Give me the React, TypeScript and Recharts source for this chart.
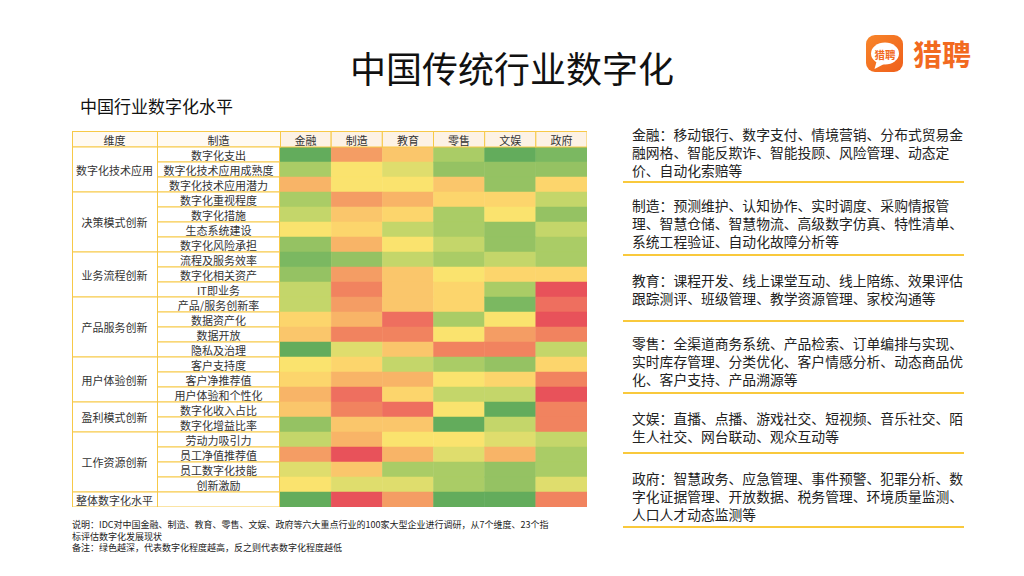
import React from 'react';
import { ScatterChart, Scatter, XAxis, YAxis } from 'recharts';

const industries = ['金融', '制造', '教育', '零售', '文娱', '政府'];

const dimensions = ['数字化技术应用', '决策模式创新', '业务流程创新', '产品服务创新', '用户体验创新', '盈利模式创新', '工作资源创新', '整体数字化水平'];
const dimensionSizes = [3, 4, 3, 4, 3, 2, 4, 1];

const indicators = [
  '数字化支出', '数字化技术应用成熟度', '数字化技术应用潜力',
  '数字化重视程度', '数字化措施', '生态系统建设', '数字化风险承担',
  '流程及服务效率', '数字化相关资产', 'IT即业务',
  '产品/服务创新率', '数据资产化', '数据开放', '隐私及治理',
  '客户支持度', '客户净推荐值', '用户体验和个性化',
  '数字化收入占比', '数字化增益比率',
  '劳动力吸引力', '员工净值推荐值', '员工数字化技能', '创新激励',
  '整体数字化水平',
];

// digitalisation level per cell: 0 = lowest (red) ... 13 = highest (deep green)
const levels: number[][] = [
  [13, 3, 5, 10, 13, 12],
  [10, 7, 8, 11, 11, 11],
  [4, 7, 7, 5, 11, 6],
  [10, 3, 4, 6, 6, 9],
  [9, 5, 6, 10, 7, 11],
  [7, 6, 9, 10, 11, 9],
  [11, 4, 7, 9, 11, 10],
  [12, 11, 9, 10, 9, 10],
  [11, 3, 5, 7, 6, 6],
  [9, 2, 5, 6, 10, 0],
  [9, 3, 5, 6, 12, 1],
  [6, 4, 1, 10, 7, 0],
  [5, 2, 2, 7, 3, 2],
  [13, 8, 5, 2, 2, 9],
  [7, 6, 9, 10, 11, 6],
  [6, 4, 4, 7, 6, 2],
  [4, 1, 6, 9, 9, 0],
  [5, 2, 1, 7, 13, 2],
  [11, 5, 5, 13, 9, 2],
  [9, 4, 7, 7, 8, 9],
  [3, 0, 4, 8, 4, 10],
  [8, 5, 10, 10, 11, 10],
  [7, 8, 8, 10, 11, 8],
  [13, 0, 3, 13, 13, 2],
];

const palette = [
  '#e8525a', '#ee6f5f', '#f1835f', '#f49d64', '#f8b467', '#fac66b', '#fcd56c',
  '#fae36e', '#dfdd6d', '#c4d66a', '#aacc66', '#95c263', '#7bb861', '#63ac5c',
];

const descLines = [
  ['金融：移动银行、数字支付、情境营销、分布式贸易金', '融网格、智能反欺诈、智能投顾、风险管理、动态定', '价、自动化索赔等'],
  ['制造：预测维护、认知协作、实时调度、采购情报管', '理、智慧仓储、智慧物流、高级数字仿真、特性清单、', '系统工程验证、自动化故障分析等'],
  ['教育：课程开发、线上课堂互动、线上陪练、效果评估', '跟踪测评、班级管理、教学资源管理、家校沟通等'],
  ['零售：全渠道商务系统、产品检索、订单编排与实现、', '实时库存管理、分类优化、客户情感分析、动态商品优', '化、客户支持、产品溯源等'],
  ['文娱：直播、点播、游戏社交、短视频、音乐社交、陌', '生人社交、网台联动、观众互动等'],
  ['政府：智慧政务、应急管理、事件预警、犯罪分析、数', '字化证据管理、开放数据、税务管理、环境质量监测、', '人口人才动态监测等'],
];

const noteLines = [
  '说明：IDC对中国金融、制造、教育、零售、文娱、政府等六大重点行业的100家大型企业进行调研，从7个维度、23个指',
  '标评估数字化发展现状',
  '备注：绿色越深，代表数字化程度越高，反之则代表数字化程度越低',
];

const cells = indicators.flatMap((indicator, r) =>
  industries.map((industry, c) => ({ industry, indicator, level: levels[r][c] }))
);

const FONT = "'Noto Sans CJK SC', 'Noto Sans', sans-serif";
const BORDER = '#f7c948';
const CHART_W = 515;
const CHART_H = 376;
const HEAD_H = 16;
const COL1 = 85;
const COL2 = 123;
const ROW_H = (CHART_H - HEAD_H) / indicators.length;
const CELL_W = (CHART_W - COL1 - COL2) / industries.length;

const groupStarts: Record<number, { label: string; size: number }> = {};
{
  let acc = 0;
  dimensions.forEach((d, i) => {
    groupStarts[acc] = { label: d, size: dimensionSizes[i] };
    acc += dimensionSizes[i];
  });
}

const HeaderTick = (props: any) => {
  const { x, payload } = props;
  return (
    <g>
      <rect x={x - CELL_W / 2} y={0.5} width={CELL_W} height={HEAD_H - 0.5} fill="#fdf2e5" stroke={BORDER} strokeWidth={1} />
      <text x={x} y={HEAD_H / 2 + 0.5} textAnchor="middle" dominantBaseline="central" fontSize={11} fill="#333" fontFamily={FONT}>
        {payload.value}
      </text>
    </g>
  );
};

const RowTick = (props: any) => {
  const { y, payload } = props;
  const idx = indicators.indexOf(payload.value);
  const top = y - ROW_H / 2;
  const isTotal = idx === indicators.length - 1;
  const g = groupStarts[idx];
  return (
    <g>
      {idx === 0 && (
        <g>
          <rect x={0.5} y={0.5} width={COL1} height={HEAD_H - 0.5} fill="#fffaf3" stroke={BORDER} />
          <text x={COL1 / 2} y={HEAD_H / 2 + 0.5} textAnchor="middle" dominantBaseline="central" fontSize={11} fill="#333" fontFamily={FONT}>维度</text>
          <rect x={COL1 + 0.5} y={0.5} width={COL2} height={HEAD_H - 0.5} fill="#fffaf3" stroke={BORDER} />
          <text x={COL1 + COL2 / 2} y={HEAD_H / 2 + 0.5} textAnchor="middle" dominantBaseline="central" fontSize={11} fill="#333" fontFamily={FONT}>制造</text>
        </g>
      )}
      <rect x={COL1 + 0.5} y={top} width={COL2 - 1} height={ROW_H} fill="#ffffff" stroke={BORDER} strokeWidth={1} />
      {!isTotal && (
        <text x={COL1 + COL2 / 2} y={y} textAnchor="middle" dominantBaseline="central" fontSize={11} fill="#333" fontFamily={FONT}>
          {payload.value}
        </text>
      )}
      {g && (
        <g>
          <rect x={0.5} y={top} width={COL1} height={g.size * ROW_H} fill="#ffffff" stroke={BORDER} strokeWidth={1} />
          <text x={COL1 / 2} y={top + (g.size * ROW_H) / 2} textAnchor="middle" dominantBaseline="central" fontSize={11} fill="#333" fontFamily={FONT}>
            {g.label}
          </text>
        </g>
      )}
    </g>
  );
};

const renderCell = (props: any) => {
  const { cx, cy } = props;
  const level = props.payload?.level ?? props.level;
  const fill = palette[level];
  return <rect x={cx - CELL_W / 2} y={cy - ROW_H / 2} width={CELL_W} height={ROW_H} fill={fill} stroke={fill} strokeWidth={0.5} />;
};

const descTops = [125, 196, 271, 334, 409, 469];
const sepYs = [182, 255, 321, 393, 453, 527];

export default function App() {
  return (
    <div style={{ position: 'absolute', left: 0, top: 0, width: 1024, height: 576, background: '#fff', fontFamily: FONT, overflow: 'hidden' }}>
      <div style={{ position: 'absolute', left: 0, top: 48, width: 1024, textAlign: 'center', fontSize: 36, lineHeight: '38px', fontWeight: 400, color: '#111', whiteSpace: 'nowrap' }}>
        中国传统行业数字化
      </div>
      <svg style={{ position: 'absolute', left: 860, top: 30 }} width={120} height={50}>
        <defs>
          <linearGradient id="logoGrad" x1="0" y1="0" x2="1" y2="1">
            <stop offset="0" stopColor="#f8862a" />
            <stop offset="1" stopColor="#ef5f1b" />
          </linearGradient>
        </defs>
        <rect x={6} y={5} width={37} height={37} rx={9} fill="url(#logoGrad)" />
        <ellipse cx={25} cy={23.5} rx={14} ry={11} fill="#fff" />
        <path d="M17 30 L14.5 39 L25 33.5 Z" fill="#fff" />
        <text x={25} y={24} textAnchor="middle" dominantBaseline="central" fontSize={10.5} fontWeight={700} fill="#f26a1f" fontFamily={FONT}>猎聘</text>
        <text x={53} y={23} dominantBaseline="central" fontSize={29} fontWeight={700} fill="#f26a1f" fontFamily={FONT}>猎聘</text>
      </svg>
      <div style={{ position: 'absolute', left: 80, top: 96, fontSize: 17, lineHeight: '20px', color: '#111', whiteSpace: 'nowrap' }}>
        中国行业数字化水平
      </div>
      <div style={{ position: 'absolute', left: 72, top: 131 }}>
        <ScatterChart width={CHART_W} height={CHART_H} margin={{ top: 0, right: 0, bottom: 0, left: 0 }}>
          <XAxis
            dataKey="industry"
            type="category"
            allowDuplicatedCategory={false}
            orientation="top"
            height={HEAD_H}
            axisLine={false}
            tickLine={false}
            interval={0}
            tick={HeaderTick}
          />
          <YAxis
            dataKey="indicator"
            type="category"
            allowDuplicatedCategory={false}
            width={COL1 + COL2}
            axisLine={false}
            tickLine={false}
            interval={0}
            reversed
            tick={RowTick}
          />
          <Scatter data={cells} isAnimationActive={false} shape={renderCell} />
        </ScatterChart>
      </div>
      {descLines.map((lines, i) => (
        <div key={i} style={{ position: 'absolute', left: 632, top: descTops[i], fontSize: 13.8, lineHeight: '18px', color: '#222', whiteSpace: 'nowrap' }}>
          {lines.map((l, j) => (
            <div key={j}>{l}</div>
          ))}
        </div>
      ))}
      {sepYs.map((y, i) => (
        <div key={i} style={{ position: 'absolute', left: 623, top: y - 0.75, width: 341, height: 1.5, background: '#f9c93c' }} />
      ))}
      <div style={{ position: 'absolute', left: 72, top: 519, fontSize: 9, lineHeight: '11.6px', color: '#222', whiteSpace: 'nowrap' }}>
        {noteLines.map((l, j) => (
          <div key={j} style={{ height: 11.6 }}>{l}</div>
        ))}
      </div>
    </div>
  );
}
